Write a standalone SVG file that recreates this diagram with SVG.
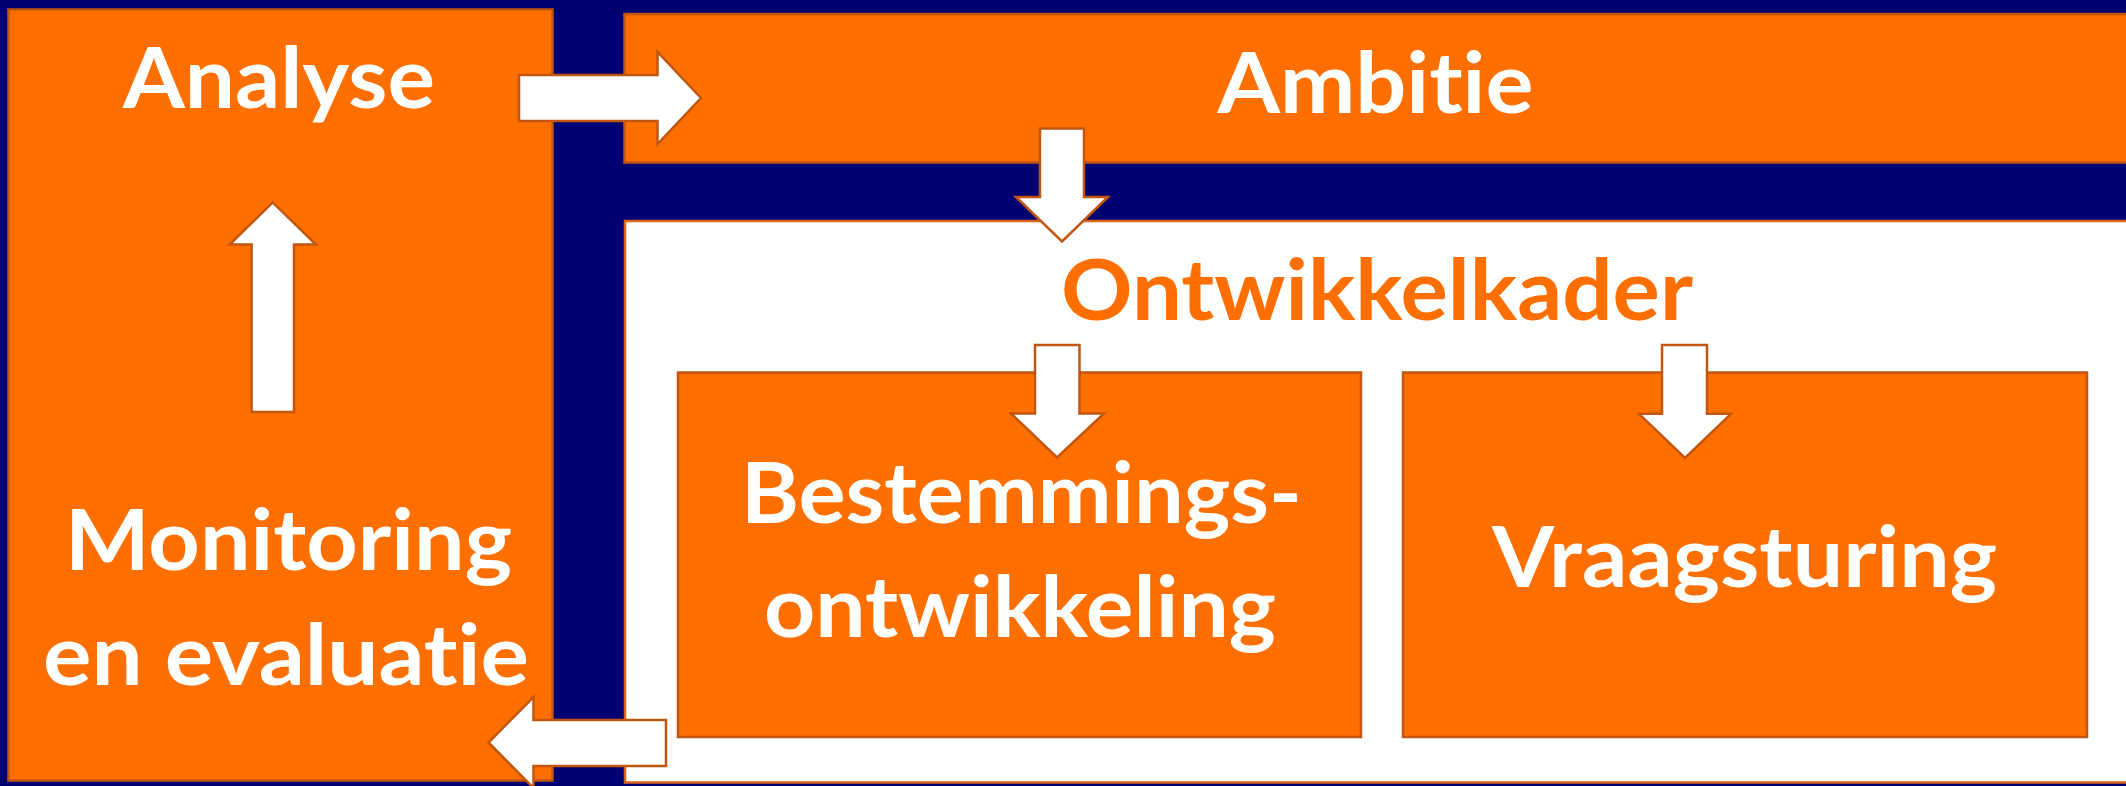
<svg xmlns="http://www.w3.org/2000/svg" width="2126" height="786" viewBox="0 0 2126 786">
  <style>
    .box { fill: #FF6F00; stroke: #C0560F; stroke-width: 2.5; }
    .frame { fill: #FFFFFF; stroke: #D9661A; stroke-width: 2.5; }
    .arrow { fill: #FFFFFF; stroke: #C0560F; stroke-width: 2.5; stroke-linejoin: miter; }
    .lbl { font-family: Lato, "Open Sans", "Liberation Sans", sans-serif; font-weight: bold; font-size: 84px; text-anchor: middle; font-variant-ligatures: none; font-feature-settings: "liga" 0, "dlig" 0; }
    .w { fill: #FFFFFF; }
    .o { fill: #FF6F00; }
  </style>
  <rect x="0" y="0" width="2126" height="786" fill="#000072"/>

  <g id="node-analyse-monitoring">
    <rect class="box" x="8.5" y="9.5" width="544" height="771"/>
    <text class="lbl w" x="279" y="108" textLength="312" lengthAdjust="spacingAndGlyphs">Analyse</text>
    <text class="lbl w" x="288.5" y="570" textLength="447" lengthAdjust="spacingAndGlyphs">Monitoring</text>
    <text class="lbl w" x="286" y="685" textLength="486" lengthAdjust="spacingAndGlyphs">en evaluatie</text>
  </g>

  <g id="node-ambitie">
    <rect class="box" x="624.5" y="14" width="1520" height="148.5"/>
    <text class="lbl w" x="1375.5" y="113" textLength="316" lengthAdjust="spacingAndGlyphs">Ambitie</text>
  </g>

  <g id="node-ontwikkelkader">
    <rect class="frame" x="625" y="221" width="1520" height="561.5"/>
    <text class="lbl o" x="1377" y="320" textLength="632" lengthAdjust="spacingAndGlyphs">Ontwikkelkader</text>
  </g>

  <g id="node-bestemmingsontwikkeling">
    <rect class="box" x="678" y="372.5" width="683" height="364.5"/>
    <text class="lbl w" x="1021.5" y="523" textLength="561" lengthAdjust="spacingAndGlyphs">Bestemmings-</text>
    <text class="lbl w" x="1020" y="637" textLength="512" lengthAdjust="spacingAndGlyphs">ontwikkeling</text>
  </g>

  <g id="node-vraagsturing">
    <rect class="box" x="1403" y="372.5" width="684" height="364.5"/>
    <text class="lbl w" x="1744.5" y="587" textLength="505" lengthAdjust="spacingAndGlyphs">Vraagsturing</text>
  </g>

  <g id="connectors">
    <polygon class="arrow" points="519,75 657.5,75 657.5,52 701,98 657.5,144 657.5,121 519,121"/>
    <polygon class="arrow" points="1040,128.5 1084,128.5 1084,197 1108,197 1062,241.5 1016,197 1040,197"/>
    <polygon class="arrow" points="1035,345 1079.5,345 1079.5,413.5 1104,413.5 1057,457.5 1011,413.5 1035,413.5"/>
    <polygon class="arrow" points="1662,345 1707,345 1707,413.8 1731,413.8 1685,458 1639,413.8 1662,413.8"/>
    <polygon class="arrow" points="251.6,412 251.6,244.6 229.6,244.6 272.7,202.4 316,244.6 294,244.6 294,412"/>
    <polygon class="arrow" points="666,720 533.5,720 533.5,697 488.5,742.5 533.5,788 533.5,766 666,766"/>
  </g>
</svg>
